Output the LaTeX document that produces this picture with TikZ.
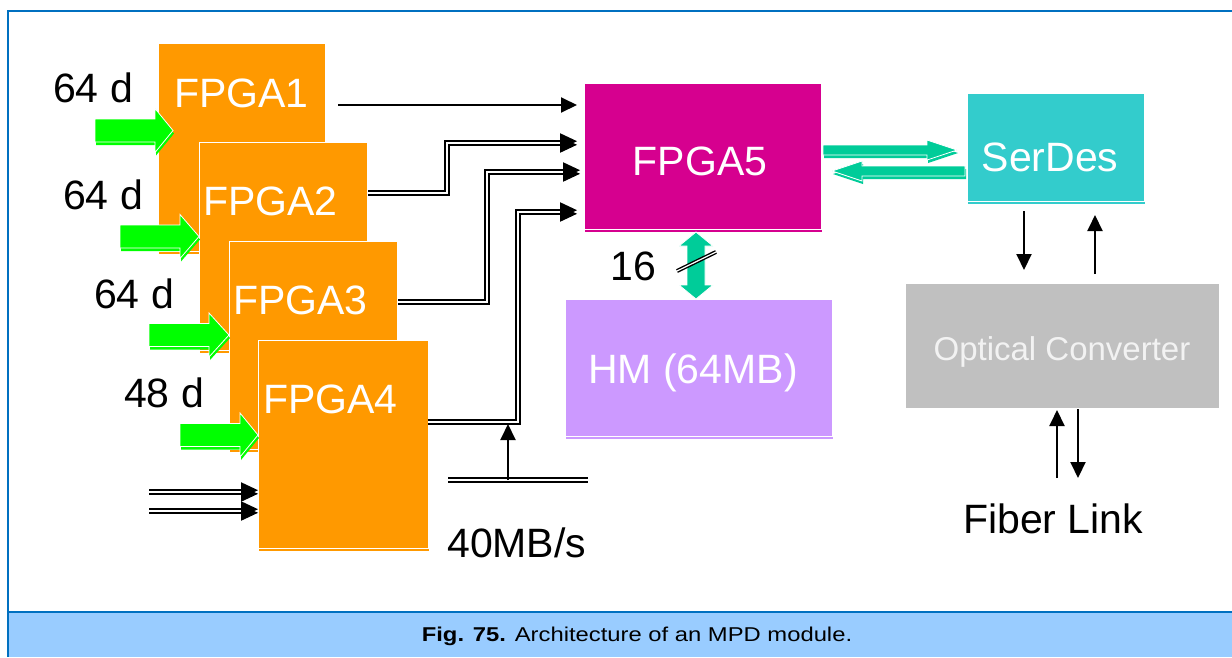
\documentclass[tikz,border=0pt]{standalone}
\usepackage{fontspec}
\setmainfont{Liberation Sans}
\usepackage{graphicx}
\usetikzlibrary{arrows.meta,calc}

\definecolor{frameblue}{HTML}{0070C0}
\definecolor{capfill}{HTML}{99CCFF}
\definecolor{fpgaorange}{HTML}{FF9900}
\definecolor{fpgapink}{HTML}{D6008F}
\definecolor{memlilac}{HTML}{CC99FF}
\definecolor{serteal}{HTML}{33CCCC}
\definecolor{optgray}{HTML}{C0C0C0}
\definecolor{ingreen}{HTML}{00FF00}
\definecolor{linkgreen}{HTML}{00CC99}

% block with a slightly offset copy underneath
\newcommand\blockbox[6]{%
  \fill[#1] ($(#3,#4)+(1,3)$) rectangle ++(#5,#6);
  \node[blk, fill=#1, minimum width=#5pt, minimum height=#6pt] (#2) at (#3,#4) {};}
% horizontal block arrow outline, relative to its start point
\newcommand\harrow[4]{+(0,-#3) -- +(#1,-#3) -- +(#1,-#4) -- +(#2,0) -- +(#1,#4) -- +(#1,#3) -- +(0,#3) -- cycle}
% pair of filled heads ending a double wire at the given tip
\newcommand\dblhead[1]{%
  \fill ($(#1)+(0,-1.8)$) -- +(-17,-8) -- +(-17,8) -- cycle;
  \fill ($(#1)+(0,1.8)$) -- +(-17,-8) -- +(-17,8) -- cycle;}

\begin{document}
\begin{tikzpicture}[x=1pt,y=-1pt,
  blk/.style={draw=white, line width=0.8pt, anchor=north west, inner sep=0pt, outer sep=0pt},
  bigtext/.style={font=\fontsize{41}{41}\selectfont, inner sep=0pt},
  intext/.style={bigtext, text=white},
  wire/.style={line width=2pt, black},
  dblwire/.style={line width=2pt, double=white, double distance=1.5pt, black},
  smallhead/.style={line width=2pt, -{Triangle[length=16pt,width=15pt]}},
  vhead/.style={line width=2pt, -{Triangle[length=16pt,width=15pt]}},
  blockarrow/.style={draw=white, line width=0.8pt}]

\useasboundingbox (0,0) rectangle (1232,657);
\fill[white] (0,0) rectangle (1232,657);

% frame and caption band
\fill[capfill] (8,612) rectangle (1232,657);
\draw[frameblue, line width=2.5pt] (1232,11) -- (8,11) -- (8,657);
\draw[frameblue, line width=2.2pt] (8,612) -- (1232,612);
\node[anchor=base, inner sep=0pt, font=\fontsize{20}{20}\selectfont] (cap) at (637,641)
  {\scalebox{1.19}[1]{\textbf{Fig. 75.} Architecture of an MPD module.}};

% input FPGAs with their data inputs
\blockbox{fpgaorange}{f1}{158}{43}{167}{208}
\coordinate (a1) at ($(f1.north west)+(-63,87.5)$);
\fill[ingreen] ($(a1)+(1,3)$) \harrow{60}{78}{11.5}{22};
\filldraw[ingreen, blockarrow] (a1) \harrow{60}{78}{11.5}{22};

\blockbox{fpgaorange}{f2}{199}{142}{168}{208}
\coordinate (a2) at ($(f2.north west)+(-79,94.5)$);
\fill[ingreen] ($(a2)+(1,3)$) \harrow{60}{79}{11.5}{22};
\filldraw[ingreen, blockarrow] (a2) \harrow{60}{79}{11.5}{22};

\blockbox{fpgaorange}{f3}{229}{241}{168}{208}
\coordinate (a3) at ($(f3.north west)+(-80,94)$);
\fill[ingreen] ($(a3)+(1,3)$) \harrow{60}{80}{11.5}{22};
\filldraw[ingreen, blockarrow] (a3) \harrow{60}{80}{11.5}{22};

\blockbox{fpgaorange}{f4}{258}{340}{170}{208}
\coordinate (a4) at ($(f4.north west)+(-78,95)$);
\fill[ingreen] ($(a4)+(1,3)$) \harrow{60}{78}{11.5}{22};
\filldraw[ingreen, blockarrow] (a4) \harrow{60}{78}{11.5}{22};

\node[intext, anchor=base west] (f1t) at (174,107) {FPGA1};
\node[intext, anchor=base west] (f2t) at (203,215) {FPGA2};
\node[intext, anchor=base west] (f3t) at (233,314) {FPGA3};
\node[intext, anchor=base west] (f4t) at (263,413) {FPGA4};

\node[bigtext, anchor=base west] (n1) at (53,102) {64 d};
\node[bigtext, anchor=base west] (n2) at (63,209) {64 d};
\node[bigtext, anchor=base west] (n3) at (94,308) {64 d};
\node[bigtext, anchor=base west] (n4) at (124,407) {48 d};

% central FPGA, memory, serializer, optical converter
\blockbox{fpgapink}{f5}{584}{83}{237}{146}
\node[intext, anchor=base] (f5t) at (700,175) {FPGA5};
\blockbox{memlilac}{hm}{565}{299}{267}{137}
\node[intext, anchor=base] (hmt) at (693,383) {HM (64MB)};
\blockbox{serteal}{sd}{967}{93}{177}{108}
\node[intext, anchor=base] (sdt) at (1050,171) {SerDes};
\node[blk, draw=none, fill=optgray, minimum width=313pt, minimum height=124pt] (oc) at (906,284) {};
\node[anchor=base, inner sep=0pt, text=white!95!black, font=\fontsize{33}{33}\selectfont] (oct) at (1062,360) {Optical Converter};

% FPGA1..4 to FPGA5
\coordinate (t1) at ($(f5.north west)+(-7,22)$);
\coordinate (t2) at ($(f5.north west)+(-7,60)$);
\coordinate (t3) at ($(f5.north west)+(-4,89)$);
\coordinate (t4) at ($(f5.north west)+(-7,129)$);
\draw[wire, smallhead] ($(f1.north east)+(13,62)$) -- (t1);
\draw[dblwire, shorten >=12pt] ($(f2.north east)+(1,51)$) -- ++(79,0) |- (t2);
\dblhead{t2}
\draw[dblwire, shorten >=12pt] ($(f3.north east)+(1,61)$) -- ++(89,0) |- (t3);
\dblhead{t3}
\draw[dblwire, shorten >=12pt] ($(f4.north east)+(0,82)$) -- ++(90,0) |- (t4);
\dblhead{t4}

% 40MB/s bus
\coordinate (busl) at (448,480);
\coordinate (busr) at (588,480);
\coordinate (bust) at (508,480);
\draw[dblwire] (busl) -- (busr);
\draw[vhead] (bust) -- ($(f4.north east)+(80,84)$);
\node[bigtext, anchor=base west] (bw) at (447,557) {40MB/s};

% extra inputs of FPGA4
\coordinate (i1) at ($(f4.north west)+(0,152)$);
\coordinate (i2) at ($(f4.north west)+(0,171)$);
\draw[dblwire, shorten >=12pt] ($(i1)+(-109,0)$) -- (i1);
\dblhead{i1}
\draw[dblwire, shorten >=12pt] ($(i2)+(-109,0)$) -- (i2);
\dblhead{i2}

% FPGA5 <-> SerDes
\coordinate (r0) at ($(f5.north east)+(2,67)$);
\coordinate (l0) at ($(sd.north west)+(-2,78)$);
\fill[linkgreen] ($(r0)+(1,3)$) \harrow{104}{134}{5}{10};
\filldraw[linkgreen, blockarrow] (r0) \harrow{104}{134}{5}{10};
\fill[linkgreen] ($(l0)+(1,3)$) \harrow{-103}{-133}{5}{10};
\filldraw[linkgreen, blockarrow] (l0) \harrow{-103}{-133}{5}{10};

% FPGA5 <-> HM, 16 bit
\coordinate (m0) at ($(f5.south west)+(112,3)$);
\filldraw[linkgreen, blockarrow] (m0) +(0,0) -- +(17,14) -- +(9,14) -- +(9,53) -- +(17,53)
  -- +(0,67) -- +(-17,53) -- +(-9,53) -- +(-9,14) -- +(-17,14) -- cycle;
\draw[line width=1.4pt, double=white, double distance=1.2pt] ($(m0)+(-19,39)$) -- ($(m0)+(20,20)$);
\node[bigtext, anchor=base west] (w16) at (610,280) {16};

% SerDes <-> optical converter <-> fiber
\draw[vhead] ($(sd.south west)+(57,10)$) -- ($(oc.north west)+(118,-14)$);
\draw[vhead] ($(oc.north west)+(189,-10)$) -- ($(sd.south west)+(128,14)$);
\draw[vhead] ($(oc.south west)+(151,70)$) -- ($(oc.south west)+(151,2)$);
\draw[vhead] ($(oc.south west)+(172,1)$) -- ($(oc.south west)+(172,70)$);
\node[bigtext, anchor=base west] (fl) at (963,533) {Fiber Link};
\end{tikzpicture}
\end{document}
